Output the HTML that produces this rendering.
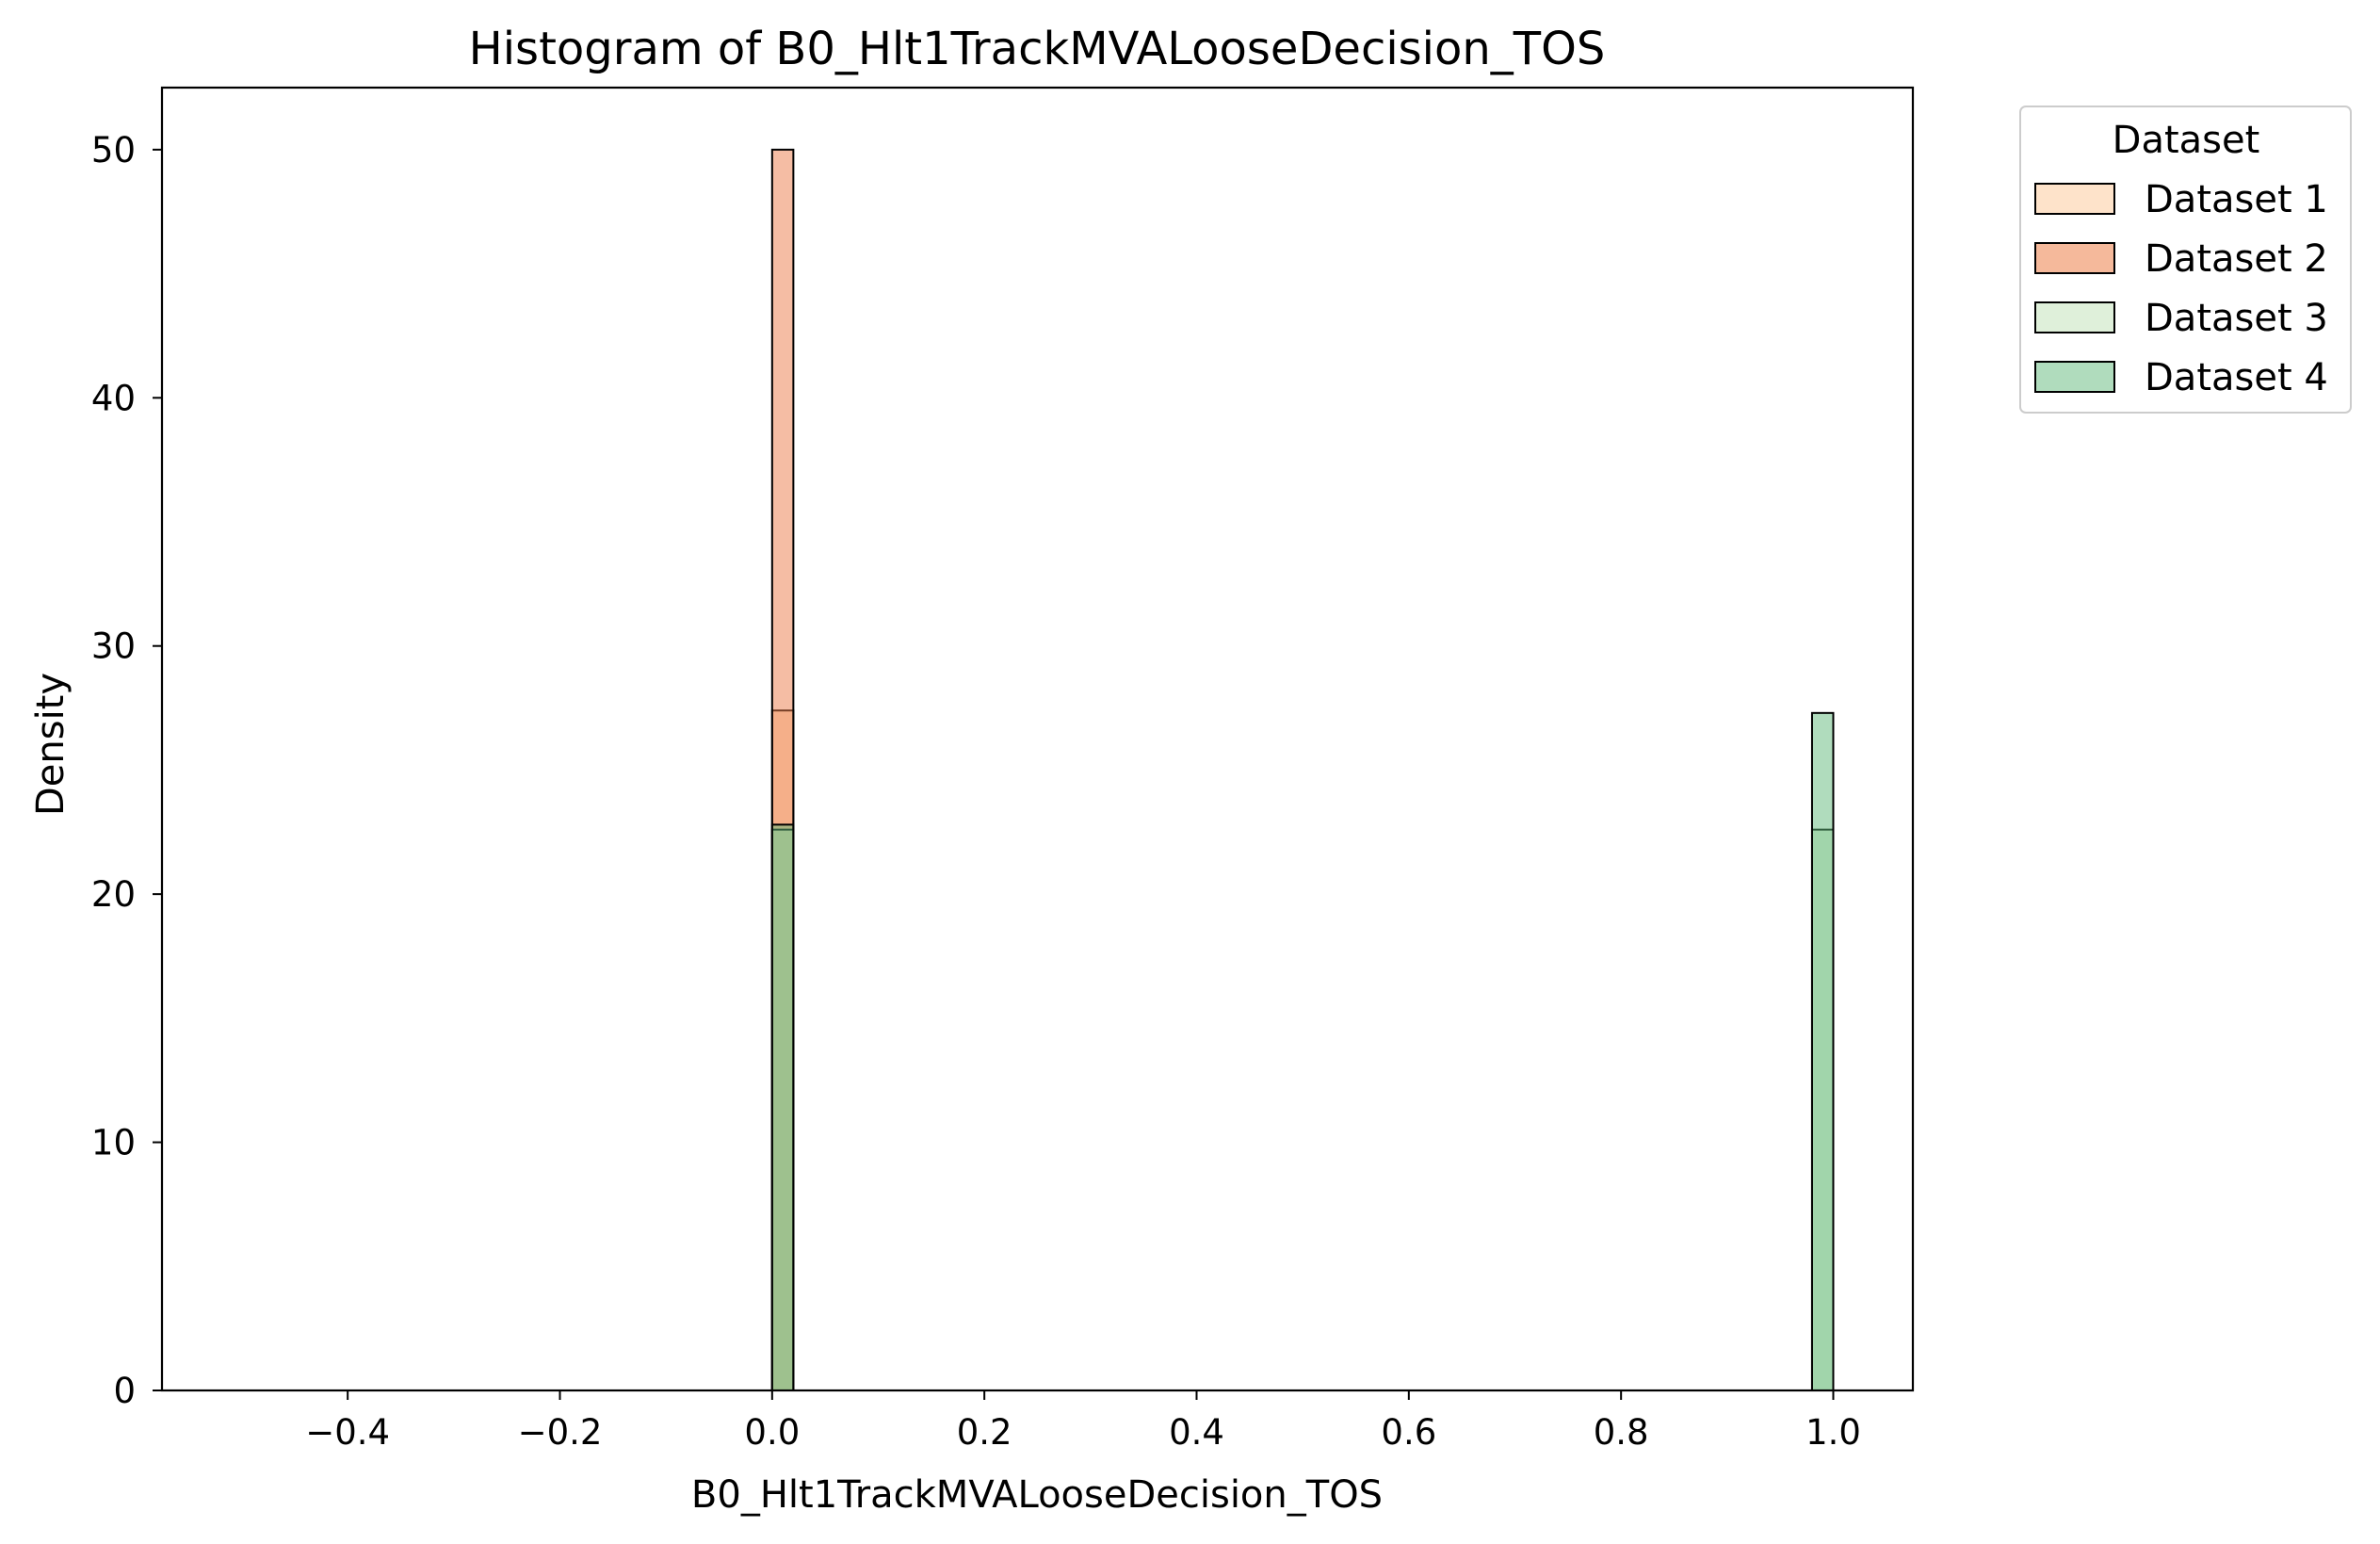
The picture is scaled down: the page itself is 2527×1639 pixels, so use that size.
<!DOCTYPE html>
<html><head><meta charset="utf-8"><style>
html,body{margin:0;padding:0;background:#fff;}
svg{display:block;font-family:"DejaVu Sans","Liberation Sans",sans-serif;}
</style></head><body>
<svg id="chart" width="2527" height="1639" viewBox="0 0 2527 1639">
<rect x="0" y="0" width="2527" height="1639" fill="#fff"/>
<text x="1101" y="68" font-size="48" text-anchor="middle" fill="#000">Histogram of B0_Hlt1TrackMVALooseDecision_TOS</text>
<g id="bars"></g>
<g id="xticks"></g>
<g id="yticks"></g>
<rect x="172" y="93" width="1859" height="1383" fill="none" stroke="#000" stroke-width="2.2"/>
<text x="1101" y="1600" font-size="40" text-anchor="middle">B0_Hlt1TrackMVALooseDecision_TOS</text>
<text x="0" y="0" font-size="40" text-anchor="middle" transform="translate(67,790) rotate(-90)">Density</text>
<g>
<rect x="2145" y="113" width="351" height="325" rx="6" fill="#fff" stroke="#ccc" stroke-width="2"/>
<text x="2321" y="162" font-size="40" text-anchor="middle">Dataset</text>
<g id="legend-entries"></g>
</g>
</svg>
<script>
const categories = ["Dataset 1","Dataset 2","Dataset 3","Dataset 4"];
const binStarts = [0.0, 0.98];
const binWidth = 0.02;
const dataset1 = [27.4, 0];
const dataset2 = [50.0, 0];
const dataset3 = [22.6, 22.6];
const dataset4 = [22.8, 27.3];
const xTickLabels = [-0.4,-0.2,0.0,0.2,0.4,0.6,0.8,1.0];
const yTickLabels = [0,10,20,30,40,50];
const series = [dataset1, dataset2, dataset3, dataset4];
const fills = ["#fdc894","#ec7c4a","#c2e3b8","#62b97c"];
const legendFills = ["#fee3ca","#f5b99b","#dff0da","#b0dcbd"];
const NS = "http://www.w3.org/2000/svg";
const L=172,R=2031,T=93,B=1476, XMIN=-0.575, XMAX=1.075, YMAX=52.5;
function xs(v){return L+(v-XMIN)/(XMAX-XMIN)*(R-L);}
function ys(v){return B-v/YMAX*(B-T);}
function mk(tag,attrs,parent){const e=document.createElementNS(NS,tag);for(const k in attrs)e.setAttribute(k,attrs[k]);parent.appendChild(e);return e;}
const bars=document.getElementById('bars');
const bl=mk('line',{x1:xs(-0.5),x2:xs(1.0),y1:B,y2:B,stroke:'#000','stroke-width':2},bars);


series.forEach((vals,si)=>{
  vals.forEach((v,bi)=>{
    if(v<=0) return;
    const r=mk('rect',{x:xs(binStarts[bi]),y:ys(v),width:xs(binStarts[bi]+binWidth)-xs(binStarts[bi]),height:B-ys(v),fill:fills[si],'fill-opacity':0.5,stroke:'#000','stroke-width':2},bars);
    
    
  });
});
const xt=document.getElementById('xticks');
xTickLabels.forEach(v=>{
  const x=xs(v);
  const l=mk('line',{x1:x,x2:x,y1:B,y2:B+10,stroke:'#000','stroke-width':2},xt);
  
  
  const t=mk('text',{x:x,y:B+57,'font-size':37,'text-anchor':'middle'},xt);
  t.textContent=(v<0?'\u2212':'')+Math.abs(v).toFixed(1);
  
  
});
const yt=document.getElementById('yticks');
yTickLabels.forEach(v=>{
  const y=ys(v);
  const l=mk('line',{x1:L-10,x2:L,y1:y,y2:y,stroke:'#000','stroke-width':2},yt);
  
  
  const t=mk('text',{x:L-28,y:y+13,'font-size':37,'text-anchor':'end'},yt);
  t.textContent=String(v);
  
  
});
const le=document.getElementById('legend-entries');
categories.forEach((c,i)=>{
  const y=211+i*63;
  const g=mk('g',{},le);
  
  
  const r=mk('rect',{x:2161,y:y-16,width:84,height:32,fill:legendFills[i],stroke:'#000','stroke-width':2},g);
  
  
  const t=mk('text',{x:2277,y:y+14,'font-size':40},g);
  t.textContent=c;
  
  
});
</script>
</body></html>
